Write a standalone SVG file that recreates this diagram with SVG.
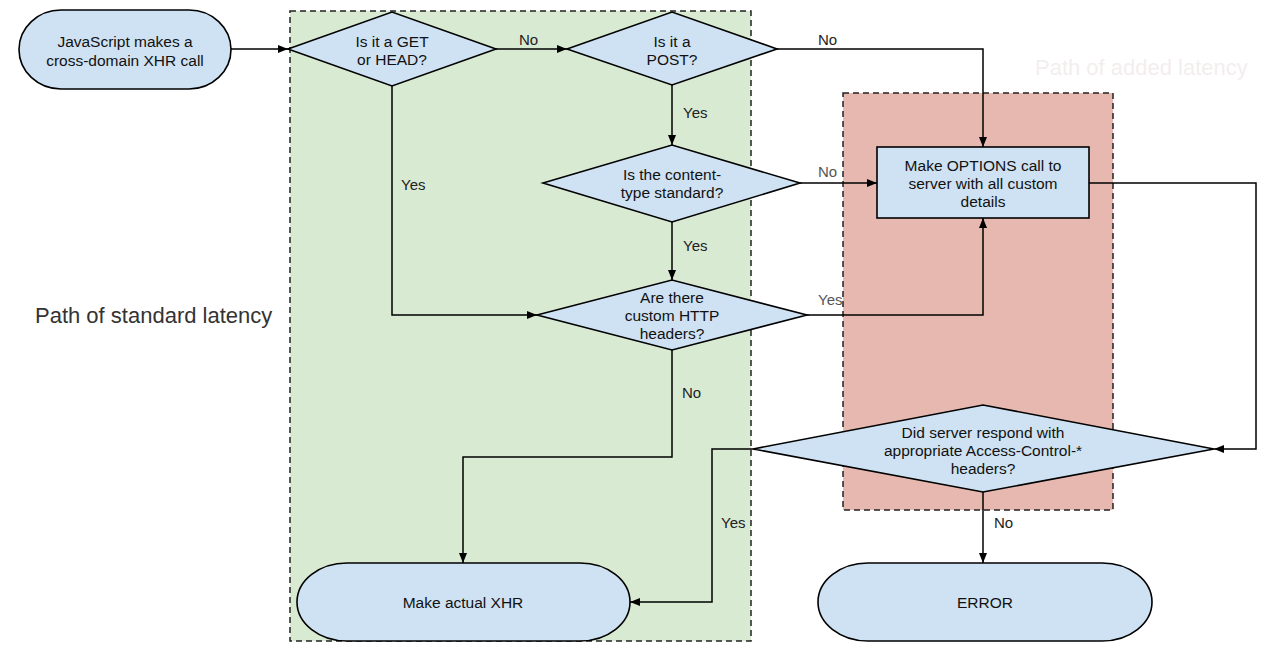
<svg xmlns="http://www.w3.org/2000/svg" width="1280" height="656" viewBox="0 0 1280 656">
<style>
.node{fill:#cfe2f3;stroke:#000;stroke-width:1.6}
.t{font-family:"Liberation Sans",Arial,sans-serif;font-size:15.5px;fill:#111;text-anchor:middle}
.lbl{font-family:"Liberation Sans",Arial,sans-serif;font-size:15px;fill:#222}
.conn{fill:none;stroke:#000;stroke-width:1.5}
.region{stroke:#222;stroke-width:1.5;stroke-dasharray:6,4}
.big{font-family:"Liberation Sans",Arial,sans-serif;font-size:22px;fill:#333}
</style>
<defs>
<marker id="arr" viewBox="0 0 10 10" refX="10" refY="5" markerWidth="10" markerHeight="10" markerUnits="userSpaceOnUse" orient="auto">
<path d="M0,1 L10,5 L0,9 z" fill="#000"/>
</marker>
</defs>
<rect width="1280" height="656" fill="#fff"/>
<g id="regions">
<rect class="region" x="290" y="11" width="461" height="630" fill="#d9ead3"/>
<rect class="region" x="843" y="93" width="270" height="417" fill="#e6b8af"/>
<text class="big" x="35" y="323">Path of standard latency</text>
<text class="big" x="1035" y="75" style="fill:#f3eeee">Path of added latency</text>
</g>
<g id="connectors">
<path class="conn" d="M231,49 H288" marker-end="url(#arr)"/>
<path class="conn" d="M496,49 H567" marker-end="url(#arr)"/>
<path class="conn" d="M777,49 H983 V147" marker-end="url(#arr)"/>
<path class="conn" d="M672,85 V145" marker-end="url(#arr)"/>
<path class="conn" d="M800,183 H877" marker-end="url(#arr)"/>
<path class="conn" d="M672,222 V280" marker-end="url(#arr)"/>
<path class="conn" d="M392,86 V315 H537" marker-end="url(#arr)"/>
<path class="conn" d="M807,315 H983 V218" marker-end="url(#arr)"/>
<path class="conn" d="M1089,183 H1256 V449 H1214" marker-end="url(#arr)"/>
<path class="conn" d="M672,350 V457 H463 V563" marker-end="url(#arr)"/>
<path class="conn" d="M753,449 H712 V602 H630" marker-end="url(#arr)"/>
<path class="conn" d="M983,492 V563" marker-end="url(#arr)"/>
<text class="lbl" x="519" y="45">No</text>
<text class="lbl" x="818" y="45">No</text>
<text class="lbl" x="683" y="118">Yes</text>
<text class="lbl" x="818" y="177" style="fill:#555">No</text>
<text class="lbl" x="683" y="251">Yes</text>
<text class="lbl" x="401" y="190">Yes</text>
<text class="lbl" x="818" y="305" style="fill:#555">Yes</text>
<text class="lbl" x="682" y="398">No</text>
<text class="lbl" x="721" y="528">Yes</text>
<text class="lbl" x="994" y="528">No</text>
</g>
<g id="start">
<rect class="node" x="19" y="10" width="212" height="79" rx="42" ry="39.5"/>
<text class="t" x="125" y="47">JavaScript makes a</text>
<text class="t" x="125" y="66">cross-domain XHR call</text>
</g>
<g id="getHead">
<polygon class="node" points="288,49 392,12 496,49 392,86"/>
<text class="t" x="392" y="47">Is it a GET</text>
<text class="t" x="392" y="65">or HEAD?</text>
</g>
<g id="post">
<polygon class="node" points="567,49 672,12 777,49 672,85"/>
<text class="t" x="672" y="47">Is it a</text>
<text class="t" x="672" y="65">POST?</text>
</g>
<g id="contentType">
<polygon class="node" points="543,183 672,145 800,183 672,222"/>
<text class="t" x="672" y="180">Is the content-</text>
<text class="t" x="672" y="198">type standard?</text>
</g>
<g id="customHeaders">
<polygon class="node" points="537,315 672,280 807,315 672,350"/>
<text class="t" x="672" y="303">Are there</text>
<text class="t" x="672" y="321">custom HTTP</text>
<text class="t" x="672" y="339">headers?</text>
</g>
<g id="options">
<rect class="node" x="877" y="147" width="212" height="71"/>
<text class="t" x="983" y="171">Make OPTIONS call to</text>
<text class="t" x="983" y="189">server with all custom</text>
<text class="t" x="983" y="207">details</text>
</g>
<g id="serverResponse">
<polygon class="node" points="753,449 983,405 1214,449 983,492"/>
<text class="t" x="983" y="438">Did server respond with</text>
<text class="t" x="983" y="456">appropriate Access-Control-*</text>
<text class="t" x="983" y="474">headers?</text>
</g>
<g id="actualXhr">
<rect class="node" x="297" y="563" width="333" height="78" rx="50" ry="39"/>
<text class="t" x="463" y="608">Make actual XHR</text>
</g>
<g id="error">
<rect class="node" x="818" y="563" width="334" height="78" rx="50" ry="39"/>
<text class="t" x="985" y="608">ERROR</text>
</g>
</svg>
